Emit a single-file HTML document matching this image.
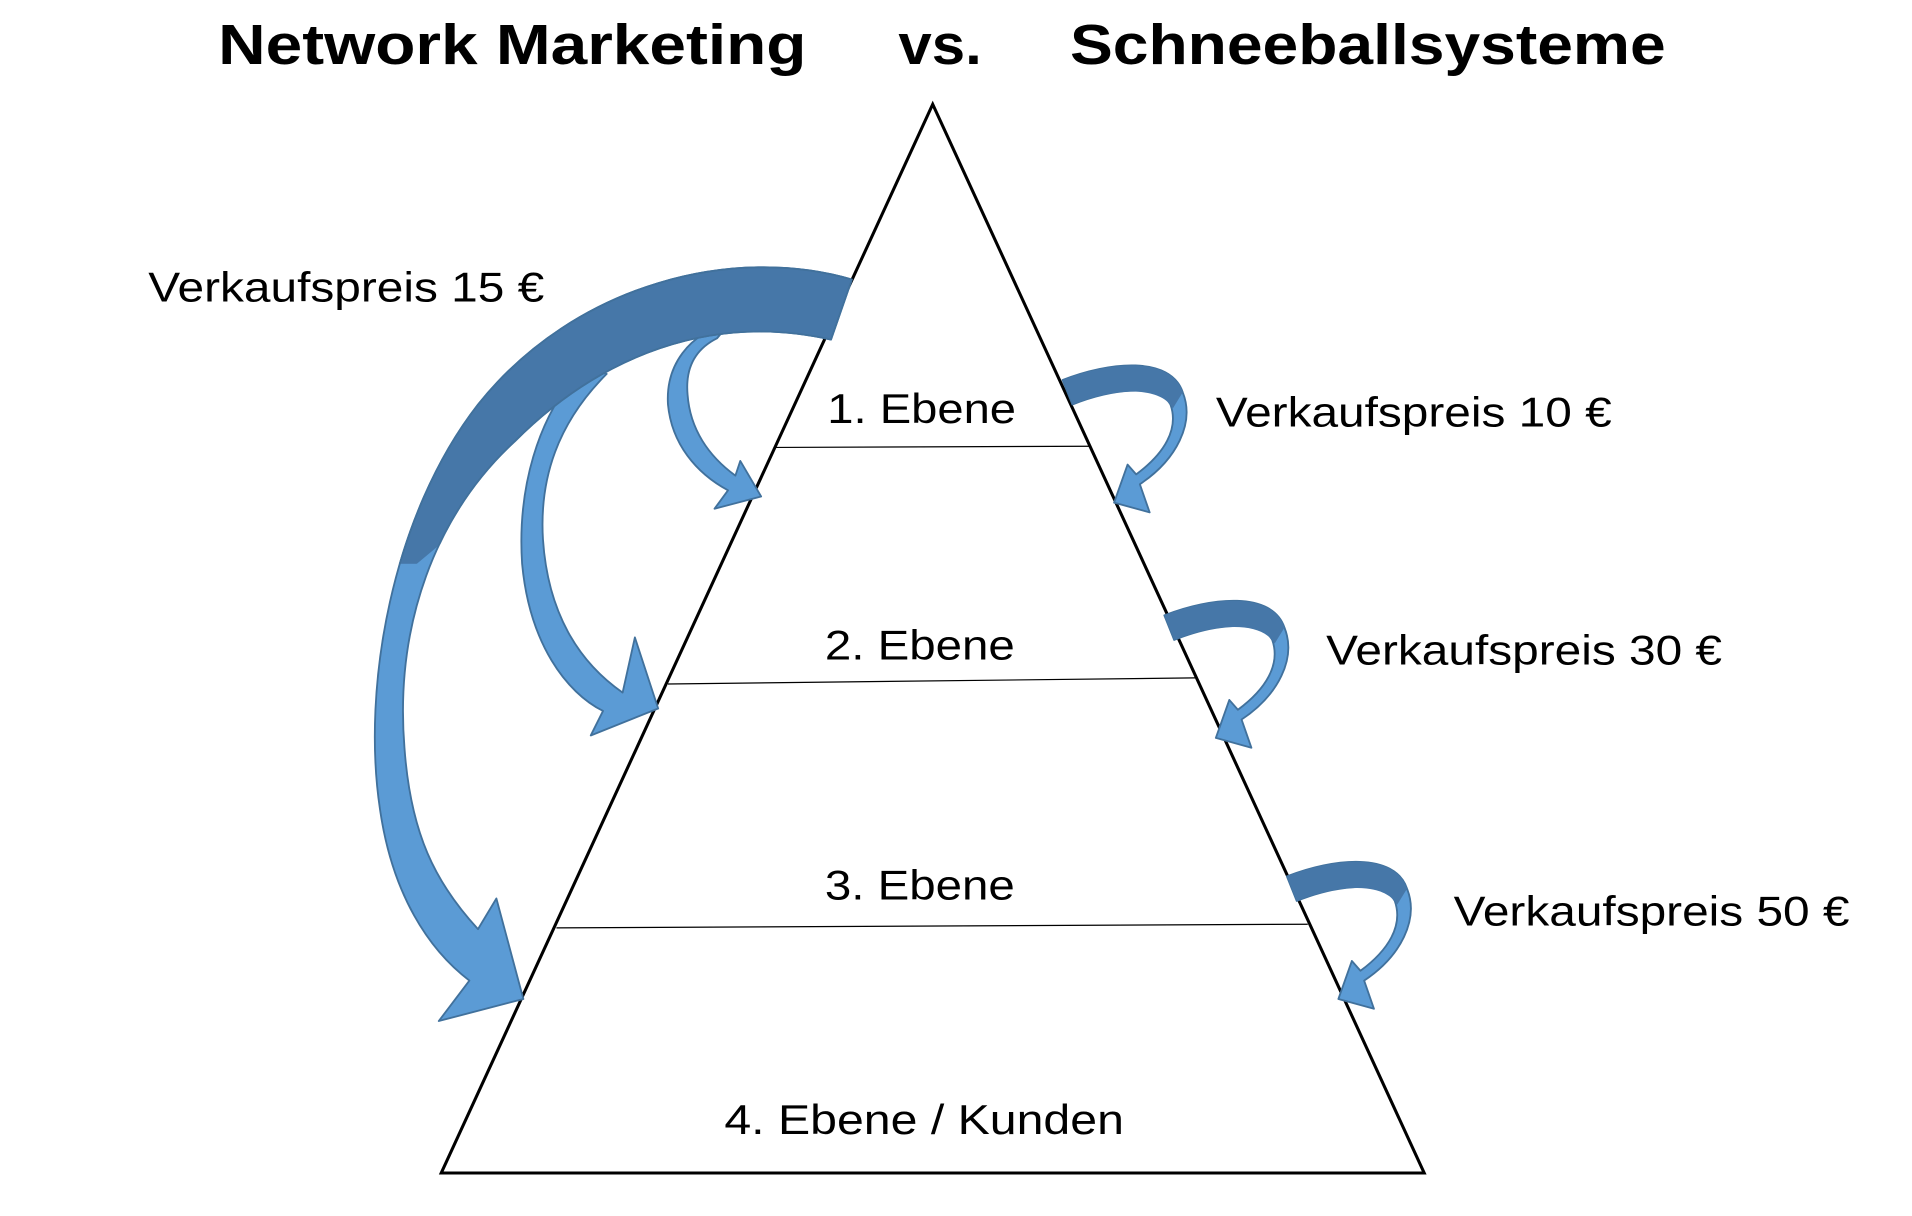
<!DOCTYPE html>
<html><head><meta charset="utf-8"><style>
html,body{margin:0;padding:0;background:#fff;}
svg{display:block;}
text{font-family:"Liberation Sans",Arial,sans-serif;fill:#000;}
</style></head><body>
<svg width="1912" height="1216" viewBox="0 0 1560 992" xmlns="http://www.w3.org/2000/svg">
<rect width="1560" height="992" fill="#fff"/>
<defs>
<clipPath id="darkclip"><polygon points="0,0 1000,0 1000,300 560,300 400,410 340,460 0,460"/></clipPath>
<path id="big" d="M695,228 C600,200 470,230 390,330 C320,420 295,560 310,660 C320,730 350,775 383,800 L358,833 L427,815 L405,733 L390,758 C355,720 335,680 330,610 C322,510 355,420 420,360 C490,290 580,255 678,277 Z"/>
<g id="ra">
<path d="M867,310 C905,295 955,290 965,320 C975,345 960,375 930,395 L938,418 L909,410 L920,379 L927,387 C950,370 962,350 955,330 C945,312 905,318 875,330 Z" fill="#5b9bd5" stroke="#41719c" stroke-width="1.5" stroke-linejoin="round"/>
<path d="M867,310 C905,295 955,290 965,320 L957,333 C945,313 905,318 875,330 Z" fill="#4677a8"/>
</g>
</defs>
<text x="178" y="52" font-size="46" font-weight="bold" textLength="480" lengthAdjust="spacingAndGlyphs">Network Marketing</text>
<text x="733" y="52" font-size="46" font-weight="bold" textLength="68" lengthAdjust="spacingAndGlyphs">vs.</text>
<text x="873" y="52" font-size="46" font-weight="bold" textLength="486" lengthAdjust="spacingAndGlyphs">Schneeballsysteme</text>
<polygon points="761,85 360,957 1162,957" fill="none" stroke="#000" stroke-width="2.5"/>
<line x1="633" y1="365" x2="889" y2="364" stroke="#000" stroke-width="1"/>
<line x1="545" y1="558" x2="975" y2="553" stroke="#000" stroke-width="1"/>
<line x1="454" y1="757" x2="1067" y2="754" stroke="#000" stroke-width="1"/>
<text x="675" y="345" font-size="34" textLength="154" lengthAdjust="spacingAndGlyphs">1. Ebene</text>
<text x="673" y="538" font-size="34" textLength="155" lengthAdjust="spacingAndGlyphs">2. Ebene</text>
<text x="673" y="734" font-size="34" textLength="155" lengthAdjust="spacingAndGlyphs">3. Ebene</text>
<text x="591" y="925" font-size="34" textLength="326" lengthAdjust="spacingAndGlyphs">4. Ebene / Kunden</text>
<text x="121" y="246" font-size="34" textLength="323" lengthAdjust="spacingAndGlyphs">Verkaufspreis 15 €</text>
<text x="992" y="348" font-size="34" textLength="323" lengthAdjust="spacingAndGlyphs">Verkaufspreis 10 €</text>
<text x="1082" y="542" font-size="34" textLength="323" lengthAdjust="spacingAndGlyphs">Verkaufspreis 30 €</text>
<text x="1186" y="755" font-size="34" textLength="323" lengthAdjust="spacingAndGlyphs">Verkaufspreis 50 €</text>
<g stroke="#41719c" stroke-width="1.5" stroke-linejoin="round">
<path d="M595,264 C562,272 543,298 545,330 C548,362 568,386 594,400 L583,415 L621,405 L604,376 L600,388 C578,372 563,350 561,322 C559,300 567,285 585,276 Z" fill="#5b9bd5"/>
<path d="M475,300 C438,340 422,400 426,460 C432,525 462,565 492,580 L482,600 L537,578 L518,520 L508,565 C472,540 447,500 443,440 C440,390 455,345 495,305 Z" fill="#5b9bd5"/>
<use href="#big" fill="#5b9bd5"/>
<use href="#big" fill="#4677a8" clip-path="url(#darkclip)"/>
</g>
<use href="#ra"/>
<use href="#ra" transform="translate(83,192)"/>
<use href="#ra" transform="translate(183,405)"/>
</svg>
</body></html>
